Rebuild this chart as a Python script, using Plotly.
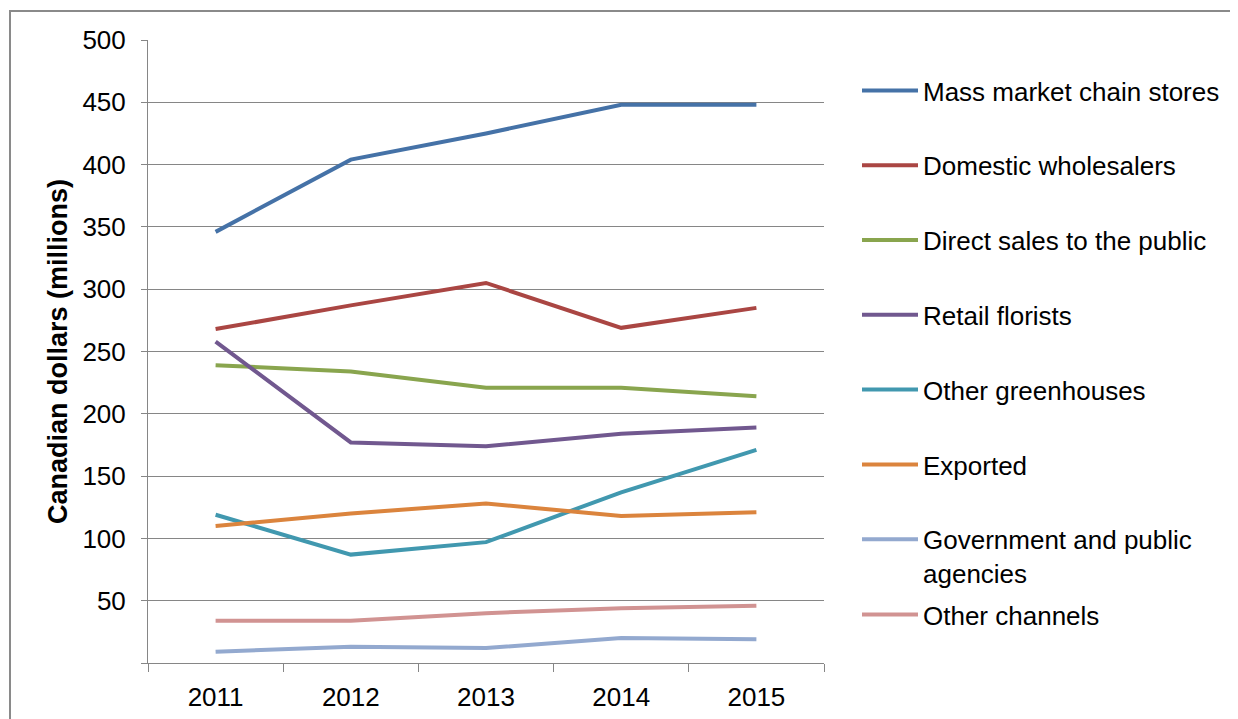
import plotly.graph_objects as go

years = ["2011", "2012", "2013", "2014", "2015"]

mass_market = [346, 404, 425, 448, 448]
domestic_wholesalers = [268, 287, 305, 269, 285]
direct_sales = [239, 234, 221, 221, 214]
retail_florists = [258, 177, 174, 184, 189]
other_greenhouses = [119, 87, 97, 137, 171]
exported = [110, 120, 128, 118, 121]
government = [9, 13, 12, 20, 19]
other_channels = [34, 34, 40, 44, 46]

series_names = [
    "Mass market chain stores",
    "Domestic wholesalers",
    "Direct sales to the public",
    "Retail florists",
    "Other greenhouses",
    "Exported",
    "Government and public<br>agencies",
    "Other channels",
]
series_values = [mass_market, domestic_wholesalers, direct_sales, retail_florists,
                 other_greenhouses, exported, government, other_channels]
colors = ["#4572A7", "#AA4643", "#89A54E", "#71588F",
          "#4198AF", "#DB843D", "#93A9CF", "#D19392"]

y_ticks = [0, 50, 100, 150, 200, 250, 300, 350, 400, 450, 500]
y_ticktext = ["", "50", "100", "150", "200", "250", "300", "350", "400", "450", "500"]

FONT = "Liberation Sans, Arial, sans-serif"

fig = go.Figure()
for i, (name, vals, col) in enumerate(zip(series_names, series_values, colors)):
    fig.add_trace(go.Scatter(
        x=years, y=vals, name=name, mode="lines",
        line=dict(color=col, width=4),
        legendgroup=f"g{i}",
        legend="legend2" if i == 7 else "legend",
    ))

# page has an 8px body margin; figure coords = page coords - 8
OFF = 8
W, H = 1230, 711
L, R, T, B = 140, 414, 32, 56
pw, ph = W - L - R, H - T - B

def px_x(x):
    return (x - OFF - L) / pw

def px_y(y):
    return (H - B - (y - OFF)) / ph

fig.update_layout(
    width=W, height=H,
    margin=dict(l=L, r=R, t=T, b=B, autoexpand=False),
    paper_bgcolor="white", plot_bgcolor="white",
    font=dict(family=FONT, size=26, color="#000000"),
    showlegend=True,
    legend=dict(
        x=px_x(857), y=px_y(67), xanchor="left", yanchor="top",
        font=dict(family=FONT, size=26, color="#000000"),
        bgcolor="rgba(0,0,0,0)", borderwidth=0,
        tracegroupgap=38, itemwidth=56, valign="top",
        traceorder="grouped",
    ),
    legend2=dict(
        x=px_x(857), y=px_y(591), xanchor="left", yanchor="top",
        font=dict(family=FONT, size=26, color="#000000"),
        bgcolor="rgba(0,0,0,0)", borderwidth=0, itemwidth=56,
    ),
    xaxis=dict(
        type="category", range=[-0.5, 4.5],
        showgrid=False, showline=True, linecolor="#868686", linewidth=1,
        ticks="outside", ticklen=8, tickcolor="#868686", tickson="boundaries",
        ticklabelstandoff=11, automargin=False,
        tickfont=dict(family=FONT, size=26, color="#000000"),
        zeroline=False, fixedrange=True,
    ),
    yaxis=dict(
        range=[0, 500], tickmode="array", tickvals=y_ticks, ticktext=y_ticktext,
        showgrid=True, gridcolor="#868686", gridwidth=1,
        showline=True, linecolor="#868686", linewidth=1,
        ticks="outside", ticklen=6, tickcolor="#868686",
        ticklabelstandoff=10, automargin=False,
        tickfont=dict(family=FONT, size=26, color="#000000"),
        zeroline=False,
        title=dict(text="<b>Canadian dollars (millions)</b>",
                   font=dict(family=FONT, size=27, color="#000000"), standoff=6),
    ),
    shapes=[dict(
        type="rect", xref="paper", yref="paper", layer="below",
        x0=px_x(10), y0=px_y(760), x1=px_x(1280), y1=px_y(11),
        line=dict(color="#8A8A8A", width=2), fillcolor="rgba(0,0,0,0)",
    )],
)

fig.write_html("out.html")
